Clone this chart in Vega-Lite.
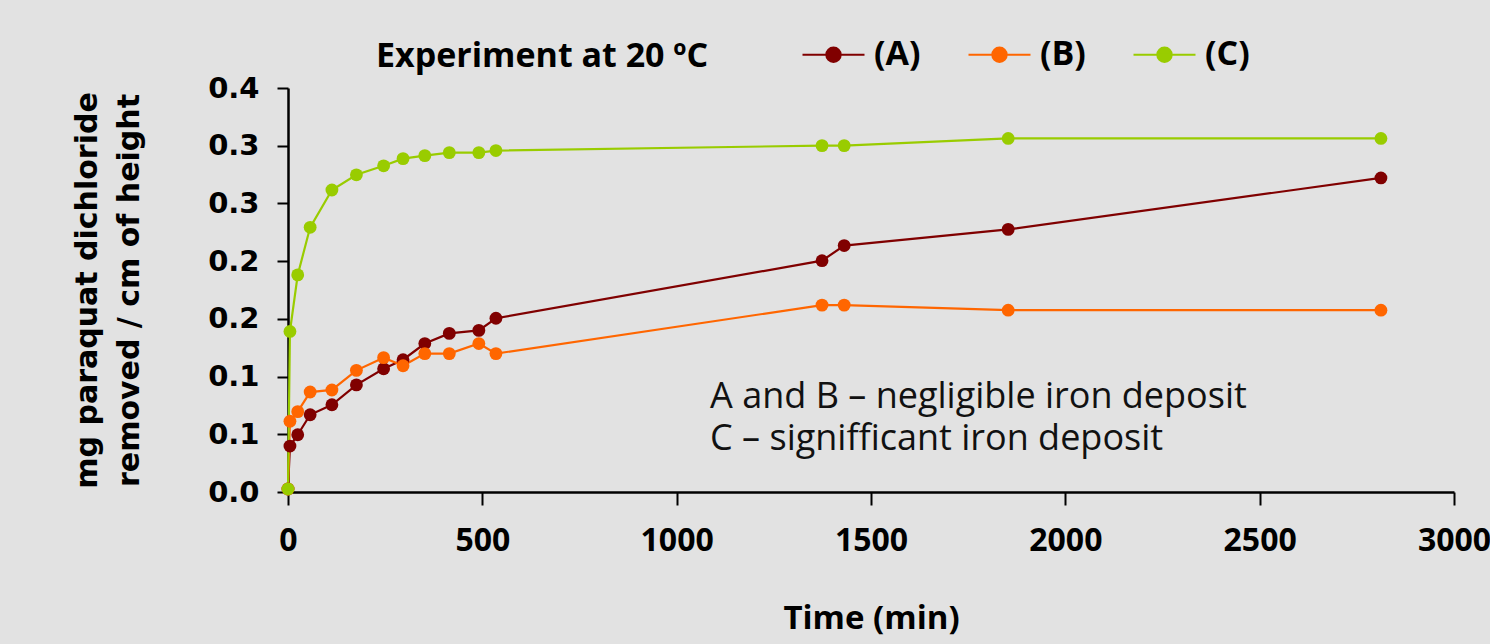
{
  "$schema": "https://vega.github.io/schema/vega-lite/v6.json",
  "width": 1166,
  "height": 404,
  "autosize": {"type": "none"},
  "padding": {"left": 288, "top": 88, "right": 36, "bottom": 152},
  "background": "#e2e2e2",
  "config": {"view": {"stroke": null}},
  "datasets": {
    "series": [
      {"s": "(A)", "t": 0, "v": 0.0026}, {"s": "(A)", "t": 5, "v": 0.0398}, {"s": "(A)", "t": 25, "v": 0.0496}, {"s": "(A)", "t": 57, "v": 0.0669}, {"s": "(A)", "t": 113, "v": 0.0756}, {"s": "(A)", "t": 176, "v": 0.0928}, {"s": "(A)", "t": 246, "v": 0.1068}, {"s": "(A)", "t": 296, "v": 0.1146}, {"s": "(A)", "t": 352, "v": 0.1286}, {"s": "(A)", "t": 415, "v": 0.1374}, {"s": "(A)", "t": 491, "v": 0.1400}, {"s": "(A)", "t": 535, "v": 0.1505}, {"s": "(A)", "t": 1374, "v": 0.2004}, {"s": "(A)", "t": 1431, "v": 0.2135}, {"s": "(A)", "t": 1853, "v": 0.2275}, {"s": "(A)", "t": 2812, "v": 0.2721},
      {"s": "(B)", "t": 0, "v": 0.0026}, {"s": "(B)", "t": 5, "v": 0.0613}, {"s": "(B)", "t": 25, "v": 0.0696}, {"s": "(B)", "t": 57, "v": 0.0866}, {"s": "(B)", "t": 113, "v": 0.0884}, {"s": "(B)", "t": 176, "v": 0.1054}, {"s": "(B)", "t": 246, "v": 0.1164}, {"s": "(B)", "t": 296, "v": 0.1094}, {"s": "(B)", "t": 352, "v": 0.1199}, {"s": "(B)", "t": 415, "v": 0.1199}, {"s": "(B)", "t": 491, "v": 0.1286}, {"s": "(B)", "t": 535, "v": 0.1199}, {"s": "(B)", "t": 1374, "v": 0.1619}, {"s": "(B)", "t": 1431, "v": 0.1619}, {"s": "(B)", "t": 1853, "v": 0.1575}, {"s": "(B)", "t": 2812, "v": 0.1575},
      {"s": "(C)", "t": 0, "v": 0.0026}, {"s": "(C)", "t": 5, "v": 0.1391}, {"s": "(C)", "t": 25, "v": 0.1881}, {"s": "(C)", "t": 57, "v": 0.2293}, {"s": "(C)", "t": 113, "v": 0.2616}, {"s": "(C)", "t": 176, "v": 0.2748}, {"s": "(C)", "t": 246, "v": 0.2826}, {"s": "(C)", "t": 296, "v": 0.2888}, {"s": "(C)", "t": 352, "v": 0.2914}, {"s": "(C)", "t": 415, "v": 0.2940}, {"s": "(C)", "t": 491, "v": 0.2940}, {"s": "(C)", "t": 535, "v": 0.2958}, {"s": "(C)", "t": 1374, "v": 0.3001}, {"s": "(C)", "t": 1431, "v": 0.3001}, {"s": "(C)", "t": 1853, "v": 0.3063}, {"s": "(C)", "t": 2812, "v": 0.3063}
    ],
    "notes": [
      {"t": 1086, "v": 0.0726, "text": "A and B – negligible iron deposit"},
      {"t": 1086, "v": 0.0360, "text": "C – signifficant iron deposit"}
    ]
  },
  "layer": [
    {
      "data": {"name": "series"},
      "mark": {"type": "line", "interpolate": "linear", "strokeWidth": 2.2},
      "encoding": {
        "x": {"field": "t", "type": "quantitative", "scale": {"domain": [0, 3000], "nice": false, "zero": false},
          "axis": {"title": "Time (min)", "values": [0, 500, 1000, 1500, 2000, 2500, 3000], "format": "d", "grid": false, "tickSize": 13, "tickWidth": 2, "tickColor": "black", "domainColor": "black", "domainWidth": 2.5, "labelFont": "Open Sans", "labelFontSize": 32, "labelFontWeight": "bold", "labelColor": "black", "labelPadding": 20, "labelFlush": false, "titleFont": "Open Sans", "titleFontSize": 33, "titleFontWeight": "bold", "titleColor": "black", "titlePadding": 46}},
        "y": {"field": "v", "type": "quantitative", "scale": {"domain": [0, 0.35], "nice": false},
          "axis": {"title": ["mg paraquat dichloride", "removed / cm of height"], "values": [0, 0.05, 0.1, 0.15, 0.2, 0.25, 0.3, 0.35], "labelExpr": "format(datum.value + 0.000001, '.1f')", "grid": false, "tickSize": 11, "tickWidth": 2, "tickColor": "black", "domainColor": "black", "domainWidth": 2.5, "labelFont": "DejaVu Sans", "labelFontSize": 29, "labelFontWeight": "bold", "labelColor": "black", "labelPadding": 18, "titleFont": "DejaVu Sans", "titleFontSize": 30, "titleFontWeight": "bold", "titleColor": "black", "titleLineHeight": 42, "titlePadding": 63}},
        "color": {"field": "s", "type": "nominal", "scale": {"domain": ["(A)", "(B)", "(C)"], "range": ["#800000", "#ff6600", "#99cc00"]},
          "legend": {"title": "Experiment at 20 ºC", "orient": "none", "legendX": 88, "legendY": -66, "direction": "horizontal", "titleOrient": "left", "titleAnchor": "middle", "titlePadding": 92, "titleLimit": 0, "titleFont": "Open Sans", "titleFontSize": 34, "titleFontWeight": "bold", "titleColor": "black", "titleBaseline": "middle", "labelFont": "Open Sans", "labelFontSize": 34, "labelFontWeight": "bold", "labelColor": "black", "labelOffset": 8, "columnPadding": 43, "symbolType": "M-1,0L1,0M0.23,0A0.23,0.23,0,1,1,-0.23,0A0.23,0.23,0,1,1,0.23,0Z", "symbolSize": 3844, "symbolStrokeWidth": 2.2, "symbolOpacity": 1,
            "encode": {"title": {"update": {"dy": {"value": 10}}}, "symbols": {"update": {"fill": {"scale": "color", "field": "value"}, "stroke": {"scale": "color", "field": "value"}, "opacity": {"value": 1}}}}}}
      }
    },
    {
      "data": {"name": "series"},
      "mark": {"type": "circle", "size": 165, "opacity": 1},
      "encoding": {
        "x": {"field": "t", "type": "quantitative"},
        "y": {"field": "v", "type": "quantitative"},
        "color": {"field": "s", "type": "nominal"}
      }
    },
    {
      "data": {"name": "notes"},
      "mark": {"type": "text", "align": "left", "baseline": "alphabetic", "font": "Open Sans", "fontSize": 36, "color": "#111111"},
      "encoding": {
        "x": {"field": "t", "type": "quantitative"},
        "y": {"field": "v", "type": "quantitative"},
        "text": {"field": "text"}
      }
    }
  ]
}
